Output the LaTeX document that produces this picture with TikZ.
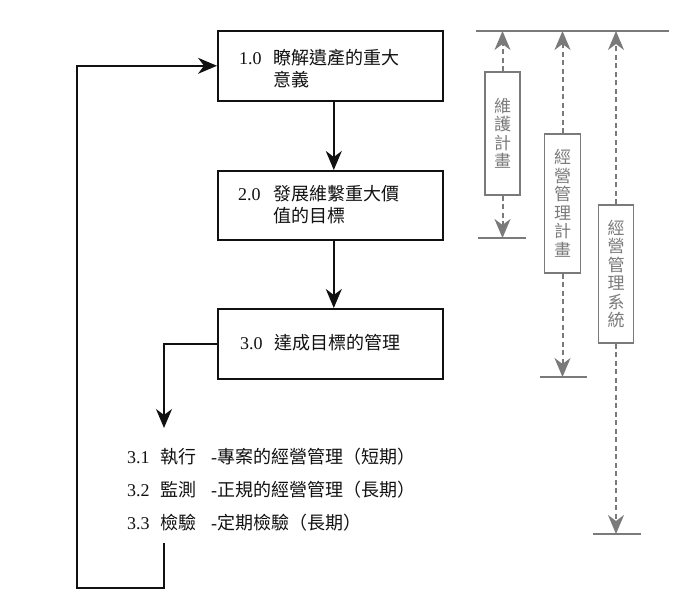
\documentclass[tikz,border=0pt]{standalone}
\usepackage{fontspec}
\setmainfont{Liberation Serif}
\newfontfamily\cjk{Noto Sans CJK TC}
\usetikzlibrary{arrows.meta}
\definecolor{grline}{HTML}{7A7A7A}
\definecolor{grtext}{HTML}{7A7A7A}
\definecolor{dark}{HTML}{111111}
\begin{document}
\begin{tikzpicture}[x=1pt,y=-1pt,
  mainbox/.style={draw=dark, line width=1.6pt, minimum width=225pt, minimum height=70pt, inner sep=0pt, anchor=north west},
  boxtext/.style={anchor=west, inner sep=0pt, align=left, font=\fontsize{18}{22}\selectfont, text=dark},
  listtext/.style={anchor=west, inner sep=0pt, font=\fontsize{18}{22}\selectfont, text=dark},
  mainline/.style={draw=dark, line width=1.6pt},
  mainarrow/.style={mainline, -{Stealth[length=19pt, width=16pt, inset=6pt]}},
  vbox/.style={draw=grline, line width=1.4pt, inner sep=0pt, align=center, text=grtext, font=\cjk\fontsize{17}{18.5}\selectfont},
  gline/.style={draw=grline, line width=1.6pt},
  gdash/.style={draw=grline, line width=2pt, dash pattern=on 5pt off 3.5pt, -{Stealth[length=19pt, width=16pt, inset=6pt]}},
]
\useasboundingbox (0,0) rectangle (683,596);

% main boxes
\node[mainbox, minimum height=70pt] (b1) at (217,30) {};
\node[mainbox, minimum height=69pt] (b2) at (217,170) {};
\node[mainbox, minimum height=70pt] (b3) at (217,308) {};

\node[boxtext] (t1) at (239,69) {\makebox[34pt][l]{1.0}{\cjk 瞭解遺產的重大}\\\hspace*{34pt}{\cjk 意義}};
\node[boxtext] (t2) at (238,205) {\makebox[35pt][l]{2.0}{\cjk 發展維繫重大價}\\\hspace*{35pt}{\cjk 值的目標}};
\node[boxtext] (t3) at (240,343) {\makebox[34pt][l]{3.0}{\cjk 達成目標的管理}};

% list
\node[listtext] (l1) at (127,457) {\makebox[33pt][l]{3.1}\makebox[51pt][l]{\cjk 執行}-{\cjk 專案的經營管理（短期）}};
\node[listtext] (l2) at (127,490) {\makebox[33pt][l]{3.2}\makebox[51pt][l]{\cjk 監測}-{\cjk 正規的經營管理（長期）}};
\node[listtext] (l3) at (127,523) {\makebox[33pt][l]{3.3}\makebox[51pt][l]{\cjk 檢驗}-{\cjk 定期檢驗（長期）}};

% connectors
\draw[mainarrow] ([xshift=3.5pt]b1.south) -- ([xshift=3.5pt]b2.north);
\draw[mainarrow] ([xshift=3.5pt]b2.south) -- ([xshift=3.5pt]b3.north);
\coordinate (lt) at (164,428);
\draw[mainarrow] (b3.west) -| (lt);
\coordinate (fb) at (164,543);
\coordinate (fbc) at (164,588);
\coordinate (fbl) at (77,588);
\draw[mainarrow] (fb) -- (fbc) -- (fbl) |- (b1.west);

% right side
\coordinate (topL) at (476,31);
\coordinate (topR) at (669,31);
\draw[gline] (topL) -- (topR);

\node[vbox, minimum width=35pt, minimum height=123pt] (v1) at (502.5,133.5) {維\\護\\計\\畫};
\node[vbox, minimum width=36pt, minimum height=139pt] (v2) at (562.5,203.5) {經\\營\\管\\理\\計\\畫};
\node[vbox, minimum width=35pt, minimum height=138pt] (v3) at (616,274) {經\\營\\管\\理\\系\\統};

\draw[gdash] (v1.north) -- (v1.north |- topL);
\draw[gdash] (v2.north) -- (v2.north |- topL);
\draw[gdash] (v3.north) -- (v3.north |- topL);

\coordinate (e1l) at (478,238);
\coordinate (e1r) at (526,238);
\coordinate (e2l) at (540,377);
\coordinate (e2r) at (587,377);
\coordinate (e3l) at (593,534);
\coordinate (e3r) at (641,534);
\draw[gline] (e1l) -- (e1r);
\draw[gline] (e2l) -- (e2r);
\draw[gline] (e3l) -- (e3r);
\draw[gdash] (v1.south) -- (v1.south |- e1l);
\draw[gdash] (v2.south) -- (v2.south |- e2l);
\draw[gdash] (v3.south) -- (v3.south |- e3l);
\end{tikzpicture}
\end{document}
